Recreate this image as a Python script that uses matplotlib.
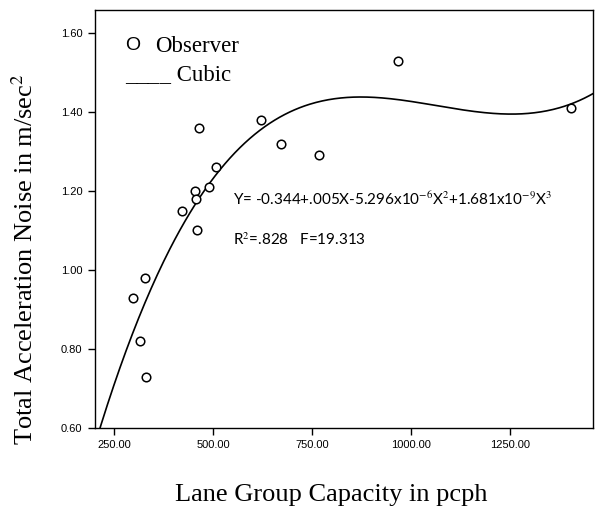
import numpy as np
import matplotlib
matplotlib.use("Agg")
import matplotlib.pyplot as plt

capacity = [298, 316, 328, 331, 422, 455, 457, 460, 465, 490, 508, 621, 672, 768, 967, 1404]
noise = [0.93, 0.82, 0.98, 0.73, 1.15, 1.20, 1.18, 1.10, 1.36, 1.21, 1.26, 1.38, 1.32, 1.29, 1.53, 1.41]

x_ticks = [250, 500, 750, 1000, 1250]
y_ticks = [0.60, 0.80, 1.00, 1.20, 1.40, 1.60]

eq_text = "Y= -0.344+.005X-5.296x10$^{-6}$X$^{2}$+1.681x10$^{-9}$X$^{3}$"
stat_text = "R$^{2}$=.828   F=19.313"

plt.rcParams['mathtext.fontset'] = 'stix'

W, H = 595, 509
fig = plt.figure(figsize=(W / 100, H / 100), dpi=100)
ax = fig.add_axes([95 / W, 1 - 428 / H, 498 / W, 418 / H])

xmin, xmax = 202, 1460
ymin, ymax = 0.60, 1.658

# cubic fit of the observations
coef = np.polyfit(capacity, noise, 3)
xs = np.linspace(xmin, xmax, 400)
ys = np.polyval(coef, xs)
ax.plot(xs, ys, color='black', lw=1.2)

ax.scatter(capacity, noise, s=38, facecolors='white', edgecolors='black', linewidths=1.1, zorder=3)

ax.set_xlim(xmin, xmax)
ax.set_ylim(ymin, ymax)
ax.set_xticks(x_ticks)
ax.set_xticklabels(["%.2f" % v for v in x_ticks])
ax.set_yticks(y_ticks)
ax.set_yticklabels(["%.2f" % v for v in y_ticks])
ax.tick_params(direction='out', length=5, width=1, labelsize=8, pad=4)
for lab in ax.get_xticklabels() + ax.get_yticklabels():
    lab.set_family('Liberation Sans')
for s in ax.spines.values():
    s.set_linewidth(1.0)

# legend drawn as text, like the original
fig.text(125 / W, 1 - 46 / H, "O", fontsize=14, family='Liberation Sans', va='center')
fig.text(155 / W, 1 - 46 / H, "Observer", fontsize=16.5, family='Liberation Serif', va='center')
fig.text(125 / W, 1 - 75 / H, "____ Cubic", fontsize=16.5, family='Liberation Serif', va='center')

ax.text(0.277, 0.548, eq_text, transform=ax.transAxes, fontsize=11, family='Lato', va='center')
ax.text(0.277, 0.45, stat_text, transform=ax.transAxes, fontsize=11, family='Lato', va='center')

fig.text(331 / W, 1 - 495 / H, "Lane Group Capacity in pcph", fontsize=19,
         family='Liberation Serif', ha='center', va='center')
fig.text(25 / W, 1 - 259 / H, "Total Acceleration Noise in m/sec$^{2}$", fontsize=19,
         family='Liberation Serif', ha='center', va='center', rotation=90)

fig.savefig("out.png", dpi=100)
